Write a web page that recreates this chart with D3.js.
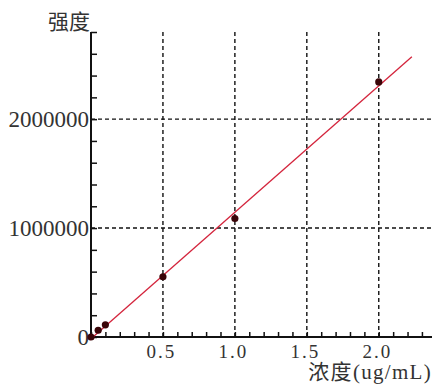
<!DOCTYPE html>
<html>
<head>
<meta charset="utf-8">
<script src="https://cdn.jsdelivr.net/npm/d3@7/dist/d3.min.js"></script>
<style>
  html, body { margin: 0; padding: 0; background: #fff; }
  svg { display: block; }
  text { fill: #333; }
</style>
</head>
<body>
<svg id="chart" width="433" height="388"></svg>
<script>
// Calibration data: concentration (ug/mL) vs. intensity
const concentrations = [0, 0.05, 0.1, 0.5, 1.0, 2.0];
const intensities = [0, 62000, 112000, 553000, 1088000, 2342000];

// Fitted calibration line: intensity = slope * concentration + intercept
const fitSlope = 1160000;
const fitIntercept = -15000;
const fitRange = [-0.01, 2.23];

const xMajorTicks = [0.5, 1.0, 1.5, 2.0];
const yMajorTicks = [0, 1000000, 2000000];
const xLabel = "浓度(ug/mL)";
const yLabel = "强度";

const svg = d3.select("#chart");
const x = d3.scaleLinear().domain([0, 2.37]).range([91, 432]);
const y = d3.scaleLinear().domain([0, 2800000]).range([337, 32]);

const serif = "'Liberation Serif', 'DejaVu Serif', serif";
const cjk = "'Liberation Serif', 'Noto Sans CJK SC', serif";

// Dashed grid lines
const grid = svg.append("g").attr("stroke", "#111").attr("stroke-width", 1.4)
  .attr("stroke-dasharray", "4,3");
grid.selectAll(".vg").data(xMajorTicks).join("line")
  .attr("x1", d => x(d)).attr("x2", d => x(d))
  .attr("y1", y(2800000)).attr("y2", y(0));
grid.selectAll(".hg").data(yMajorTicks.filter(d => d > 0)).join("line")
  .attr("x1", x(0)).attr("x2", x(2.37))
  .attr("y1", d => y(d)).attr("y2", d => y(d));

// Minor ticks pointing into the plot
const xMinor = d3.range(0, 2.37, 0.1);
const yMinor = d3.range(0, 2800001, 200000);
svg.append("g").attr("transform", `translate(0,${y(0)})`)
  .call(d3.axisTop(x).tickValues(xMinor).tickSize(5).tickFormat(""))
  .call(g => g.select(".domain").remove())
  .call(g => g.selectAll("line").attr("stroke", "#111").attr("stroke-width", 1.5));
svg.append("g").attr("transform", `translate(${x(0)},0)`)
  .call(d3.axisRight(y).tickValues(yMinor).tickSize(6).tickFormat(""))
  .call(g => g.select(".domain").remove())
  .call(g => g.selectAll("line").attr("stroke", "#111").attr("stroke-width", 1.5));

// Axis lines
svg.append("line").attr("x1", x(0)).attr("x2", x(2.37))
  .attr("y1", y(0)).attr("y2", y(0)).attr("stroke", "#111").attr("stroke-width", 2);
svg.append("line").attr("x1", x(0)).attr("x2", x(0))
  .attr("y1", y(2800000)).attr("y2", y(0)).attr("stroke", "#111").attr("stroke-width", 2);

// Tick labels
svg.append("g").attr("transform", `translate(0,${y(0)})`)
  .call(d3.axisBottom(x).tickValues(xMajorTicks).tickSize(0).tickPadding(8)
    .tickFormat(d3.format(".1f")))
  .call(g => g.select(".domain").remove())
  .call(g => g.selectAll("text").attr("font-family", serif).attr("font-size", 19)
    .attr("letter-spacing", 2).attr("fill", "#333").attr("dx", -2));
svg.append("g").attr("transform", `translate(${x(0) - 1},0)`)
  .call(d3.axisLeft(y).tickValues(yMajorTicks).tickSize(0).tickPadding(1)
    .tickFormat(d3.format("d")))
  .call(g => g.select(".domain").remove())
  .call(g => g.selectAll("text").attr("font-family", serif).attr("font-size", 23)
    .attr("fill", "#333"));

// Axis titles
svg.append("text").attr("x", 69).attr("y", 29).attr("text-anchor", "middle")
  .attr("font-family", cjk).attr("font-size", 21).text(yLabel);
svg.append("text").attr("x", 432).attr("y", 379).attr("text-anchor", "end")
  .attr("font-family", cjk).attr("font-size", 21).attr("letter-spacing", 1.3)
  .text(xLabel);

// Fitted line
svg.append("line")
  .attr("x1", x(fitRange[0])).attr("y1", y(fitSlope * fitRange[0] + fitIntercept))
  .attr("x2", x(fitRange[1])).attr("y2", y(fitSlope * fitRange[1] + fitIntercept))
  .attr("stroke", "#d4243c").attr("stroke-width", 1.3);

// Measured points
svg.append("g").selectAll("circle")
  .data(concentrations.map((c, i) => [c, intensities[i]]))
  .join("circle")
  .attr("cx", d => x(d[0])).attr("cy", d => y(d[1])).attr("r", 3.6)
  .attr("fill", "#3a0508");
</script>
</body>
</html>
